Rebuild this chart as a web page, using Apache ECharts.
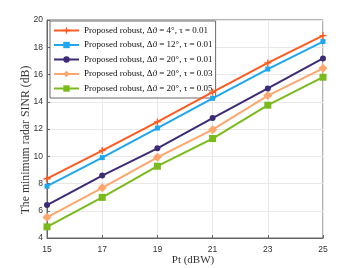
<!DOCTYPE html>
<html><head><meta charset="utf-8">
<script src="https://cdn.jsdelivr.net/npm/echarts@6/dist/echarts.min.js"></script>
<style>html,body{margin:0;padding:0;background:#fff}#c{width:357px;height:268px}</style>
</head><body><div id="c"></div>
<script>
var categories = ['15','17','19','21','23','25'];
var names = [
  'Proposed robust, Δϑ = 4°, τ = 0.01',
  'Proposed robust, Δϑ = 12°, τ = 0.01',
  'Proposed robust, Δϑ = 20°, τ = 0.01',
  'Proposed robust, Δϑ = 20°, τ = 0.03',
  'Proposed robust, Δϑ = 20°, τ = 0.05'
];
var xTitle = 'Pt (dBW)';
var yTitle = 'The minimum radar SINR (dB)';
var s4_001  = [8.35, 10.42, 12.52, 14.7, 16.85, 18.85];
var s12_001 = [7.8, 9.9, 12.07, 14.25, 16.4, 18.42];
var s20_001 = [6.42, 8.58, 10.58, 12.8, 14.98, 17.18];
var s20_003 = [5.52, 7.68, 9.92, 11.95, 14.45, 16.45];
var s20_005 = [4.82, 6.98, 9.27, 11.3, 13.75, 15.8];

var colors = ['#FF5A1F','#1EA7EE','#3D2B78','#FFA66E','#7ABA1C'];
var plus = 'path://M4,0 L6,0 L6,4 L10,4 L10,6 L6,6 L6,10 L4,10 L4,6 L0,6 L0,4 L4,4 Z';
var symbols = [plus,'rect','circle','diamond','rect'];
var sizes = [7,5,6,9,7];
var data = [s4_001,s12_001,s20_001,s20_003,s20_005];

var series = data.map(function(d,i){
  return {name:names[i], type:'line', data:d, symbol:symbols[i], symbolSize:sizes[i],
    showAllSymbol:true, lineStyle:{color:colors[i],width:2}, itemStyle:{color:colors[i]},
    z: 10-i};
});

var chart = echarts.init(document.getElementById('c'));
chart.setOption({
  animation:false,
  grid:{left:47,top:20,right:34,bottom:30,show:true,borderColor:'#666',borderWidth:1,backgroundColor:'#fff'},
  legend:{orient:'vertical',left:50,top:21,itemGap:5.5,itemWidth:25,itemHeight:8,
    padding:[5,3,5,3],backgroundColor:'#fff',borderColor:'#444',borderWidth:0.8,
    textStyle:{fontFamily:'Liberation Serif',fontSize:9,color:'#111'},data:names},
  graphic:[
    {type:'text',x:193,y:260,style:{text:xTitle,font:'11px "Liberation Serif"',fill:'#333',textAlign:'center',textVerticalAlign:'middle'}},
    {type:'text',x:25.5,y:140,rotation:Math.PI/2,style:{text:yTitle,font:'11.8px "Liberation Serif"',fill:'#3a3a3a',textAlign:'center',textVerticalAlign:'middle'}}
  ],
  xAxis:{type:'category',data:categories,boundaryGap:false,
    axisLine:{lineStyle:{color:'#666'}},axisTick:{inside:true,length:3,lineStyle:{color:'#666'}},
    axisLabel:{fontFamily:'Liberation Sans',fontSize:8.5,color:'#333',margin:7},
    splitLine:{show:true,lineStyle:{color:'#E8E8E8',width:1}}},
  yAxis:{type:'value',min:4,max:20,interval:2,
    axisLine:{show:true,lineStyle:{color:'#666'}},axisTick:{show:true,inside:true,length:3,lineStyle:{color:'#666'}},
    axisLabel:{fontFamily:'Liberation Sans',fontSize:8.5,color:'#333',margin:4},
    splitLine:{show:true,lineStyle:{color:'#E8E8E8',width:1}}},
  series:series
});
</script></body></html>
